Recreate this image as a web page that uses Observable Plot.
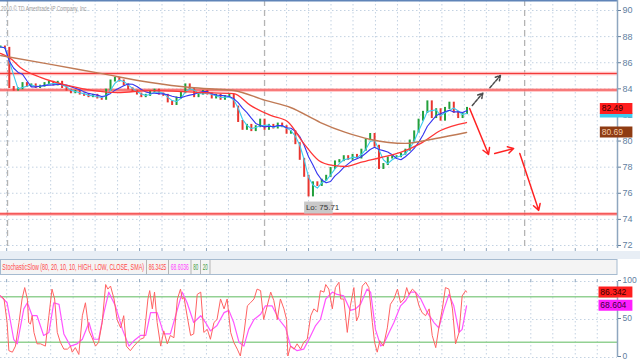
<!DOCTYPE html>
<html><head><meta charset="utf-8">
<script src="https://cdn.jsdelivr.net/npm/d3@7"></script>
<script src="https://cdn.jsdelivr.net/npm/@observablehq/plot@0.6"></script>
<style>
body{margin:0;background:#fff;width:640px;height:360px;overflow:hidden;position:relative;font-family:"Liberation Sans",Arial,sans-serif}
.abs{position:absolute;left:0}
</style></head>
<body>
<div id="main" class="abs" style="top:0"></div>
<div class="abs" style="top:251px;width:640px;height:8px;background:#e8eef5"></div>
<svg id="hdr" class="abs" style="top:259px" width="640" height="16"></svg>
<div id="stoch" class="abs" style="top:275px"></div>
<svg id="copy" class="abs" style="top:0" width="200" height="16"></svg>
<script>
// ---- data ----
const closes = [87.2,87.1,84.1,83.9,84.0,84.4,84.2,84.3,84.1,84.2,84.4,84.5,84.3,84.5,84.1,83.9,83.7,83.8,83.6,83.5,
83.4,83.5,83.3,83.2,83.9,84.6,84.8,84.6,84.3,84.0,83.8,83.6,83.4,83.5,83.8,83.9,83.6,83.5,83.0,82.8,
83.3,83.7,84.3,84.0,83.4,83.6,83.8,83.6,83.3,83.5,83.2,83.4,83.5,82.6,81.5,80.9,81.2,80.8,81.1,81.6,
80.9,81.2,81.0,81.3,81.1,80.6,80.7,79.8,78.6,77.3,75.8,76.8,76.6,77.0,77.3,77.9,78.4,78.5,78.8,78.6,
78.9,78.7,79.3,80.1,80.5,79.6,77.9,78.2,78.7,78.8,78.8,79.0,79.3,80.0,80.7,81.6,82.2,83.0,81.8,82.4,
81.6,82.5,82.9,82.2,81.8,82.1,82.5];
const brownMA = [[0,86.55],[11.4,85.87],[22.7,85.18],[34.1,84.49],[43.2,84.10],[53,83.87],[60.2,83.11],[65.9,82.57],[72.7,81.42],[78.4,80.66],[84.1,80.12],[92,79.82],[98.9,80.20],[105.9,80.66]];
const redMA = [[0,86.71],[2.3,86.32],[4.5,85.64],[9.1,84.87],[15.2,84.26],[21.1,83.87],[26.6,83.72],[34.1,83.87],[45.5,83.72],[53,83.64],[56.8,82.73],[61.4,81.96],[65.2,81.50],[68.9,79.82],[72.3,78.51],[75.5,78.13],[78.4,78.05],[81.8,78.36],[86.4,78.74],[90.9,79.13],[95.5,79.82],[100,80.81],[105.9,81.42]];
const levels = [85.18, 83.91, 74.42];
const priceTicks = [72,74,76,78,80,82,84,86,88,90];
const gridBars = [1.4,6.4,11.4,16.5,21.5,26.6,31.6,36.7,41.7,46.8,51.8,65,70,75.1,80.1,85.2,90.2,95.2,100.3,105.4,110.4,115.5,120.5,125.5,130.6,135.6];
const sepBars = [1.6, 60, 119.1];
const greyArrows = [{x1:107.2,y1:82.73,x2:109.6,y2:83.67},{x1:111.2,y1:84.08,x2:113.6,y2:85.02}];
const redArrows = [{x1:106.6,y1:82.50,x2:110.9,y2:78.97},{x1:112.3,y1:79.05,x2:116.6,y2:79.43},{x1:118,y1:79.05,x2:122.3,y2:74.69}];
const lastPrice = 82.49, smaLast = 80.69, lowPrice = 75.71;
const stochK = [[0,81],[0.8,77],[1.5,46],[1.9,9],[2.7,7],[3.4,15],[4.2,46],[4.9,77],[5.5,92],[6.1,77],[6.4,46],[6.8,44],[7.2,55],[7.6,33],[8.3,18],[9.1,18],[10.2,15],[11,55],[11.7,90],[12.3,77],[12.9,33],[13.6,20],[14.4,11],[15.2,11],[15.9,15],[16.3,7],[17,13],[17.8,4],[18.6,55],[19.3,72],[20.1,35],[20.8,26],[21.6,15],[22.3,20],[23.1,46],[23.9,96],[24.4,90],[25,94],[25.8,77],[26.5,50],[27.3,39],[28,55],[28.6,15],[29.5,9],[30.3,15],[31.1,20],[31.8,24],[32.6,26],[33.5,77],[33.9,88],[34.5,64],[35,86],[35.6,46],[36.4,15],[37.1,35],[37.9,18],[38.6,29],[39.4,26],[40.2,77],[40.9,90],[41.3,77],[41.7,79],[42.4,55],[43.2,29],[43.9,31],[44.7,83],[45.5,86],[46.2,33],[47,37],[47.7,24],[48.5,46],[49.2,50],[50,77],[50.8,64],[51.5,77],[52.3,33],[53,20],[53.8,11],[54.5,2],[55.3,31],[56.1,68],[56.8,72],[57.6,77],[58.3,90],[59.1,88],[59.8,50],[60.6,68],[61.4,86],[62.1,75],[62.9,50],[63.6,77],[64.4,64],[65,50],[65.3,2],[65.9,15],[66.7,11],[67.4,18],[68.2,11],[68.9,20],[69.7,24],[70.5,55],[71.2,64],[72,60],[72.7,88],[73.5,86],[73.9,96],[74.6,90],[75.4,64],[76.1,92],[76.9,99],[77.3,77],[78,77],[78.8,33],[79.5,68],[80.3,92],[80.9,48],[81.4,55],[82.2,94],[83,99],[83.7,92],[84.5,46],[85,20],[85.6,7],[86.2,22],[87,15],[87.9,39],[88.6,70],[89.4,77],[90.2,90],[90.9,72],[91.7,77],[92.3,92],[92.8,83],[93.6,90],[94.3,86],[95.1,68],[95.8,59],[96.6,55],[97.4,64],[98.1,29],[98.9,13],[99.6,39],[100.4,64],[101.1,92],[101.9,90],[102.7,64],[103.4,18],[104.2,33],[104.9,81],[105.7,88],[105.9,86]];
const stochD = [[0,81],[1.5,72],[3,24],[3.8,18],[5.3,64],[6.1,72],[7.2,55],[8.3,55],[9.8,29],[11,33],[12.1,72],[13.3,70],[14.4,31],[15.9,15],[17.4,18],[18.6,24],[20.1,46],[21.2,24],[22.3,24],[23.5,59],[24.6,86],[26.1,68],[27.7,37],[29.2,15],[30.3,22],[31.8,29],[33,29],[34.1,59],[35.6,59],[37.1,31],[38.6,31],[39.8,55],[41.3,86],[42.4,72],[43.9,46],[45.5,55],[46.6,46],[47.7,35],[49.2,42],[50.8,59],[51.9,62],[53,46],[54.2,20],[55.3,15],[56.4,37],[57.6,50],[59.1,57],[60.2,68],[61.7,68],[63.3,50],[64.8,39],[65.9,15],[67.4,9],[68.9,11],[70.1,24],[71.6,42],[72.7,50],[73.9,77],[75.4,86],[76.5,83],[78,81],[79.5,62],[80.7,64],[81.8,70],[83.3,90],[84.1,86],[85.2,37],[86.4,15],[87.1,18],[88.3,33],[89.4,46],[90.9,68],[92.1,75],[93.2,86],[94.3,86],[95.5,77],[97,59],[98.5,46],[99.6,39],[100.8,64],[101.9,83],[103,68],[104.2,33],[104.9,37],[105.9,68]];
const stochTicks = [0,50,100];
const stochLevels = [80,20];
const kLast = "86.342", dLast = "68.604";

// ---- derived table ----
const bars = closes.map((c,i)=>({t:i, close:c, open: i ? closes[i-1] : c}));
const xMax = 140.2;
const lowBar = bars.reduce((a,b)=> b.close < a.close ? b : a);
const gridStyle = {stroke:"#c3d2e2", strokeDasharray:"1.5,2.5", strokeWidth:1};

const main = Plot.plot({
  width:640, height:252, marginLeft:0, marginRight:23, marginTop:0, marginBottom:4,
  x:{domain:[0,xMax], axis:null},
  y:{domain:[71.77, 90.766], axis:null},
  style:{background:"transparent", fontFamily:"Liberation Sans, Arial, sans-serif"},
  marks:[
    Plot.ruleY(priceTicks, gridStyle),
    Plot.ruleX(gridBars, gridStyle),
    Plot.ruleX(sepBars, {stroke:"#b4b4b4", strokeDasharray:"6,4", strokeWidth:1.3}),
    Plot.ruleY(levels, {stroke:"#ff9c9c", strokeWidth:3.5, strokeOpacity:0.7}),
    Plot.ruleY(levels, {stroke:"#f23a3a", strokeWidth:1.1}),
    Plot.ruleX(bars, {x:"t", y1:"open", y2:"close", stroke:d=> d.close >= d.open ? "#23a03c" : "#e8352f", strokeWidth:2, strokeLinecap:"square"}),
    Plot.lineY(bars, Plot.windowY({k:3, anchor:"end"}, {x:"t", y:"close", stroke:"#3ccbee", strokeWidth:1.1})),
    Plot.lineY(bars, Plot.windowY({k:6, anchor:"end"}, {x:"t", y:"close", stroke:"#3434f0", strokeWidth:1.1})),
    Plot.line(redMA, {x:d=>d[0], y:d=>d[1], stroke:"#ff3636", strokeWidth:1.3, curve:"monotone-x"}),
    Plot.line(brownMA, {x:d=>d[0], y:d=>d[1], stroke:"#c07a55", strokeWidth:1.4, curve:"monotone-x"}),
    Plot.arrow(greyArrows, {x1:"x1", y1:"y1", x2:"x2", y2:"y2", stroke:"#4a4a4a", strokeWidth:1.5, strokeDasharray:"3,1.5", headLength:7}),
    Plot.arrow(redArrows, {x1:"x1", y1:"y1", x2:"x2", y2:"y2", stroke:"#ff2222", strokeWidth:1.5, headLength:7}),
    Plot.ruleY([lowPrice], {x1:lowBar.t - 0.9, x2:lowBar.t + 5.6, dy:10.5, stroke:"#c9c9c9", strokeWidth:12}),
    Plot.text([`Lo: ${lowPrice}`], {x:lowBar.t - 0.6, y:lowPrice, dy:10.5, textAnchor:"start", fontSize:8, fill:"#333"}),
    Plot.ruleY([90.766], {stroke:"#5f84b8", strokeWidth:2}),
    Plot.ruleX([xMax], {stroke:"#8ea6bf", strokeWidth:1.5}),
    Plot.axisY(priceTicks, {anchor:"right", tickSize:3, tickPadding:2, fontSize:9, color:"#62809f", label:null}),
    Plot.axisX(gridBars, {anchor:"bottom", tickSize:3, tickFormat:()=>"", color:"#8ea6bf", label:null}),
    Plot.ruleY([lastPrice], {x1:xMax-3.9, x2:xMax+3.5, dy:7, stroke:"#3ccbee", strokeWidth:4}),
    Plot.ruleY([lastPrice], {x1:xMax-3.9, x2:xMax+3.5, stroke:"#ff1e1e", strokeWidth:11}),
    Plot.text([lastPrice.toFixed(2)], {x:xMax-3.6, y:lastPrice, textAnchor:"start", fontSize:8.5, fill:"#3a0000"}),
    Plot.ruleY([smaLast], {x1:xMax-3.9, x2:xMax+3.5, stroke:"#8e3b12", strokeWidth:11}),
    Plot.text([smaLast.toFixed(2)], {x:xMax-3.6, y:smaLast, textAnchor:"start", fontSize:8.5, fill:"#f3c9a6"})
  ]
});
document.getElementById("main").append(main);

const stoch = Plot.plot({
  width:640, height:85, marginLeft:0, marginRight:23, marginTop:6, marginBottom:3,
  x:{domain:[0,xMax], axis:null},
  y:{domain:[0,100], axis:null},
  style:{background:"transparent", fontFamily:"Liberation Sans, Arial, sans-serif"},
  marks:[
    Plot.ruleY(stochTicks, gridStyle),
    Plot.ruleX(gridBars, gridStyle),
    Plot.ruleY(stochLevels, {stroke:"#93d193", strokeWidth:1.6}),
    Plot.line(stochD, {x:d=>d[0], y:d=>d[1], stroke:"#ff55ff", strokeWidth:1.2}),
    Plot.line(stochK, {x:d=>d[0], y:d=>d[1], stroke:"#ff6262", strokeWidth:1}),
    Plot.ruleX([xMax], {stroke:"#8ea6bf", strokeWidth:1.5}),
    Plot.axisY(stochTicks, {anchor:"right", tickSize:3, tickPadding:2, fontSize:8.5, color:"#62809f", label:null, dy:-1}),
    Plot.axisX(gridBars, {anchor:"top", tickSize:3, tickFormat:()=>"", color:"#8ea6bf", label:null}),
    Plot.ruleY([+kLast], {x1:xMax-4.2, x2:xMax+3.5, stroke:"#ff1e1e", strokeWidth:11}),
    Plot.text([kLast], {x:xMax-3.9, y:+kLast, textAnchor:"start", fontSize:8.5, fill:"#3a0000"}),
    Plot.ruleY([+dLast], {x1:xMax-4.2, x2:xMax+3.5, stroke:"#ff1eff", strokeWidth:11}),
    Plot.text([dLast], {x:xMax-3.9, y:+dLast, textAnchor:"start", fontSize:8.5, fill:"#3a003a"})
  ]
});
document.getElementById("stoch").append(stoch);

// header strip
const hdrItems = [
  {text:"StochasticSlow (80, 20, 10, 10, HIGH, LOW, CLOSE, SMA)", x0:0, x1:146.5, color:"#ff4848"},
  {text:"86.3425", x0:146.5, x1:168.5, color:"#ff4848"},
  {text:"68.6036", x0:168.5, x1:191, color:"#ff3cff"},
  {text:"80", x0:191, x1:200.5, color:"#3c9a3c"},
  {text:"20", x0:200.5, x1:210, color:"#3c9a3c"}
];
const hdr = d3.select("#hdr");
hdr.append("rect").attr("x",0.5).attr("y",0.5).attr("width",616.5).attr("height",15).attr("fill","#f4f4f4").attr("stroke","#a6bbd0");
hdrItems.forEach(d=>{
  hdr.append("line").attr("x1",d.x1).attr("x2",d.x1).attr("y1",1).attr("y2",15).attr("stroke","#b5b5b5");
  const tx = hdr.append("text").attr("y",11.5).attr("font-size",9).attr("fill",d.color).text(d.text);
  const w = tx.node().getComputedTextLength();
  const s = Math.min(1, (d.x1 - d.x0 - 4.5) / w);
  tx.attr("transform", `translate(${d.x0 + 2.3},0) scale(${s},1)`);
});
const cp = d3.select("#copy").append("text").attr("y",11).attr("font-size",8).attr("fill","#9a9a9a")
  .text("2010 © TD Ameritrade IP Company, Inc.");
const cw = cp.node().getComputedTextLength();
cp.attr("transform", `translate(1,0) scale(${87/cw},1)`);
</script>
</body></html>
